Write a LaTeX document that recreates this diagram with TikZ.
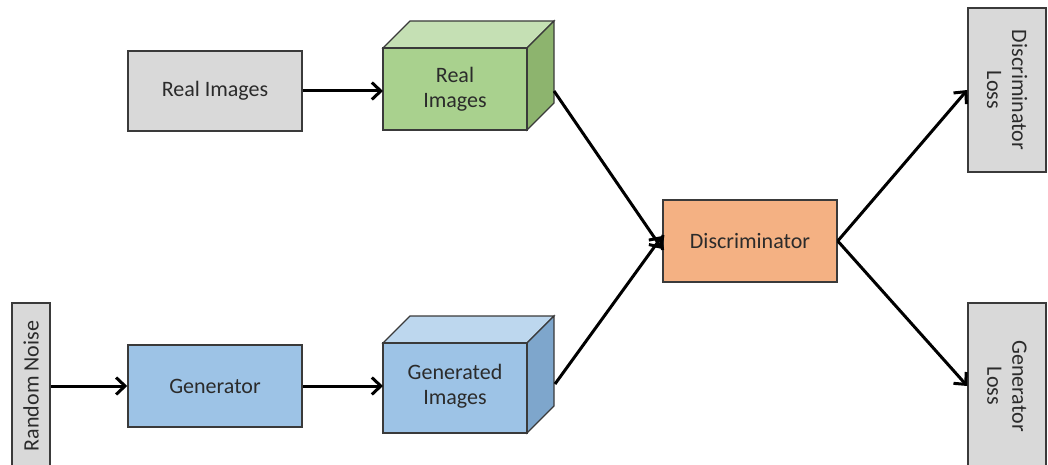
\documentclass[tikz,border=0pt]{standalone}
\usepackage{fontspec}
\setmainfont{Carlito}
\usetikzlibrary{arrows.meta}
\definecolor{grayfill}{HTML}{D9D9D9}
\definecolor{edge}{HTML}{3A3A3A}
\definecolor{txt}{HTML}{2B2B2B}
\definecolor{gfront}{HTML}{A9D18E}
\definecolor{gtop}{HTML}{C5E0B4}
\definecolor{gside}{HTML}{8DB46E}
\definecolor{bfront}{HTML}{9DC3E6}
\definecolor{btop}{HTML}{BDD7EE}
\definecolor{bside}{HTML}{7EA6CC}
\definecolor{ofill}{HTML}{F4B183}
\tikzset{
  box/.style={draw=edge, line width=1.5pt, text=txt, font=\fontsize{22}{25}\selectfont, inner sep=0pt, align=center},
  facetxt/.style={text=txt, font=\fontsize{22}{25}\selectfont, align=center, inner sep=0pt},
  face/.style={draw=edge, line width=1.2pt},
  conn/.style={line width=3pt, -{Straight Barb[length=9pt,width=17pt]}}
}
\begin{document}
\begin{tikzpicture}[x=1pt,y=-1pt]
\useasboundingbox (0,0) rectangle (1048,465);
% gray boxes
\node[box, fill=grayfill, minimum width=174pt, minimum height=80pt] (ri) at (215,91) {Real Images};
\node[box, fill=grayfill, minimum width=166pt, minimum height=38pt, rotate=90] (rn) at (31,386) {Random Noise};
\node[box, fill=bfront, minimum width=174pt, minimum height=82pt] (gen) at (215,386) {Generator};
\node[box, fill=ofill, minimum width=174pt, minimum height=82pt] (disc) at (750,241) {Discriminator};
\node[box, fill=grayfill, minimum width=164pt, minimum height=78pt, rotate=-90] (dl) at (1007,90) {Discriminator\\Loss};
\node[box, fill=grayfill, minimum width=166pt, minimum height=78pt, rotate=-90] (gl) at (1007,386) {Generator\\Loss};
% real images cube
\filldraw[face, fill=gtop] (383,48) -- (410,21) -- (554,21) -- (527,48) -- cycle;
\filldraw[face, fill=gside] (527,48) -- (554,21) -- (554,103) -- (527,130) -- cycle;
\filldraw[face, fill=gfront] (383,48) rectangle (527,130);
\node[facetxt] (rc) at (455,89) {Real\\Images};
\coordinate (rcin) at (383,91);
\coordinate (rcout) at (554,91);
% generated images cube
\filldraw[face, fill=btop] (383,343) -- (410,316) -- (554,316) -- (527,343) -- cycle;
\filldraw[face, fill=bside] (527,343) -- (554,316) -- (554,406) -- (527,433) -- cycle;
\filldraw[face, fill=bfront] (383,343) rectangle (527,433);
\node[facetxt] (gc) at (455,386) {Generated\\Images};
\coordinate (gcin) at (383,386);
\coordinate (gcout) at (555,384);
% connectors
\draw[conn] (ri.east) -- (rcin);
\draw[conn] (rn.south) -- (gen.west);
\draw[conn] (gen.east) -- (gcin);
\draw[conn] (rcout) -- ([yshift=-8pt]disc.west);
\draw[conn] (gcout) -- ([yshift=5pt]disc.west);
\draw[conn] (disc.east) -- (dl.south);
\draw[conn] (disc.east) -- (gl.south);
\end{tikzpicture}
\end{document}
